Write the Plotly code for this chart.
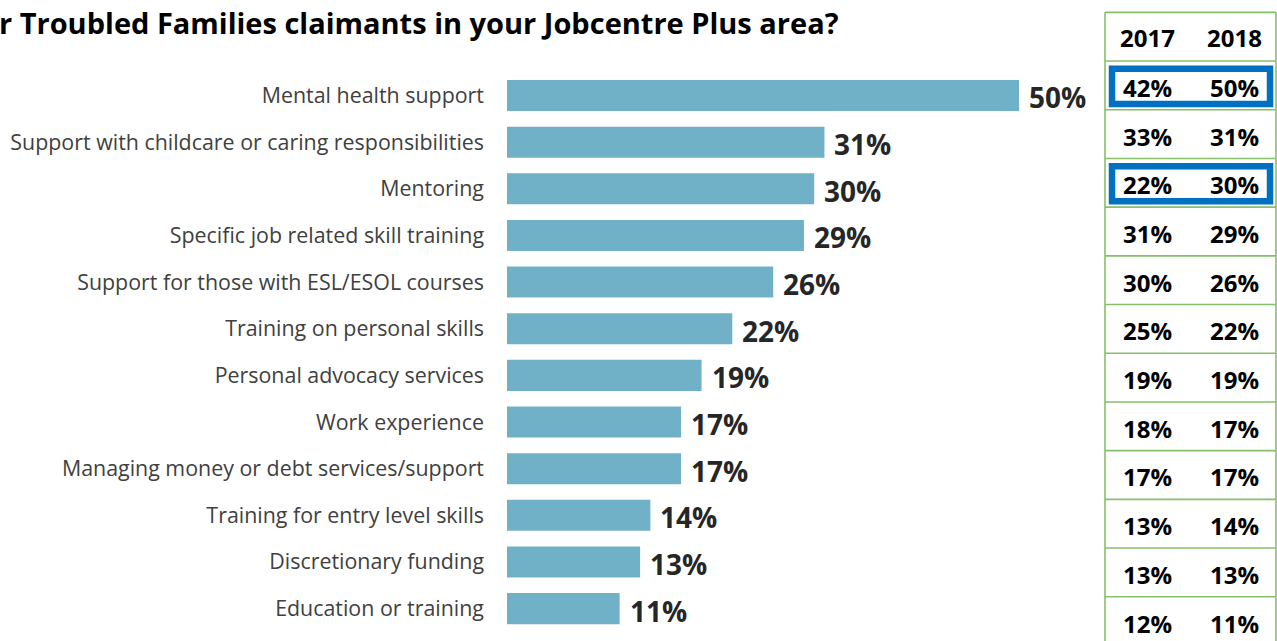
import plotly.graph_objects as go

# Survey results: share of respondents per support type
categories = [
    "Mental health support",
    "Support with childcare or caring responsibilities",
    "Mentoring",
    "Specific job related skill training",
    "Support for those with ESL/ESOL courses",
    "Training on personal skills",
    "Personal advocacy services",
    "Work experience",
    "Managing money or debt services/support",
    "Training for entry level skills",
    "Discretionary funding",
    "Education or training",
]
values_2018 = [50, 31, 30, 29, 26, 22, 19, 17, 17, 14, 13, 11]
values_2017 = [42, 33, 22, 31, 30, 25, 19, 18, 17, 13, 13, 12]
years = ["2017", "2018"]
highlighted = ["Mental health support", "Mentoring"]

title_text = "r Troubled Families claimants in your Jobcentre Plus area?"

W, H = 1277, 641
BAR_COLOR = "#71B1C8"
GRID_GREEN = "#86C06A"
HIGHLIGHT_BLUE = "#0070C0"
FONT = "Open Sans"

fig = go.Figure()

fig.add_trace(go.Bar(
    x=values_2018,
    y=categories,
    orientation="h",
    marker=dict(color=BAR_COLOR, line=dict(width=0)),
    width=0.665,
    hoverinfo="skip",
    showlegend=False,
))

annotations = []

# value labels at the end of each bar
for cat, v in zip(categories, values_2018):
    annotations.append(dict(
        x=v, y=cat, xref="x", yref="y",
        text=f"<b>{v}%</b>", showarrow=False,
        xanchor="left", yanchor="middle", xshift=8, yshift=-2,
        font=dict(family=FONT, size=28, color="#262626"),
    ))

# side table: 2017 vs 2018 comparison (rows on yaxis2, columns in paper x)
col_x = [1147 / W, 1234 / W]
for j, yr in enumerate(years):
    annotations.append(dict(
        x=col_x[j], y=-1, xref="paper", yref="y2",
        text=f"<b>{yr}</b>", showarrow=False,
        xanchor="center", yanchor="middle", yshift=-1,
        font=dict(family=FONT, size=24, color="#000000"),
    ))
for i, (a, b) in enumerate(zip(values_2017, values_2018)):
    for j, v in enumerate((a, b)):
        annotations.append(dict(
            x=col_x[j], y=i, xref="paper", yref="y2",
            text=f"<b>{v}%</b>", showarrow=False,
            xanchor="center", yanchor="middle", yshift=-2,
            font=dict(family=FONT, size=24, color="#000000"),
        ))

# title
annotations.append(dict(
    x=0, y=1 - 22 / H, xref="paper", yref="paper",
    text=f"<b>{title_text}</b>", showarrow=False,
    xanchor="left", yanchor="middle", xshift=-3,
    font=dict(family=FONT, size=29, color="#000000"),
))

shapes = []
tx0, tx1 = 1105 / W, 1276 / W
# horizontal rules of the table
for k in range(-1, len(categories) + 1):
    shapes.append(dict(
        type="line", xref="paper", yref="y2",
        x0=tx0, x1=tx1, y0=k - 0.5, y1=k - 0.5,
        line=dict(color=GRID_GREEN, width=1.6),
    ))
# outer vertical borders
for xv in (tx0, tx1):
    shapes.append(dict(
        type="line", xref="paper", yref="y2",
        x0=xv, x1=xv, y0=-1.5, y1=len(categories) - 0.5,
        line=dict(color=GRID_GREEN, width=1.6),
    ))
# highlight boxes around notable rows
for i, cat in enumerate(categories):
    if cat in highlighted:
        shapes.append(dict(
            type="rect", xref="paper", yref="y2",
            x0=1112 / W, x1=1270 / W, y0=i - 0.34, y1=i + 0.38,
            line=dict(color=HIGHLIGHT_BLUE, width=6.5),
            fillcolor="rgba(0,0,0,0)",
        ))

px_per_unit = 10.24
x_end = 60
fig.update_layout(
    width=W, height=H,
    margin=dict(l=0, r=0, t=0, b=0),
    paper_bgcolor="white", plot_bgcolor="white",
    xaxis=dict(
        domain=[507 / W, (507 + x_end * px_per_unit) / W],
        range=[0, x_end], visible=False, fixedrange=True,
    ),
    yaxis=dict(
        domain=[0, 1],
        type="category",
        categoryorder="array", categoryarray=categories,
        range=[11.694, -2.047],
        showgrid=False, zeroline=False, showline=False,
        ticks="", ticklabelstandoff=22,
        tickfont=dict(family=FONT, size=21.4, color="#404040"),
        fixedrange=True,
    ),
    yaxis2=dict(
        domain=[0, 1], overlaying="y", anchor="x",
        range=[11.409, -1.754], visible=False, fixedrange=True,
    ),
    bargap=0.335,
    annotations=annotations,
    shapes=shapes,
    showlegend=False,
)

fig.write_html("out.html")
